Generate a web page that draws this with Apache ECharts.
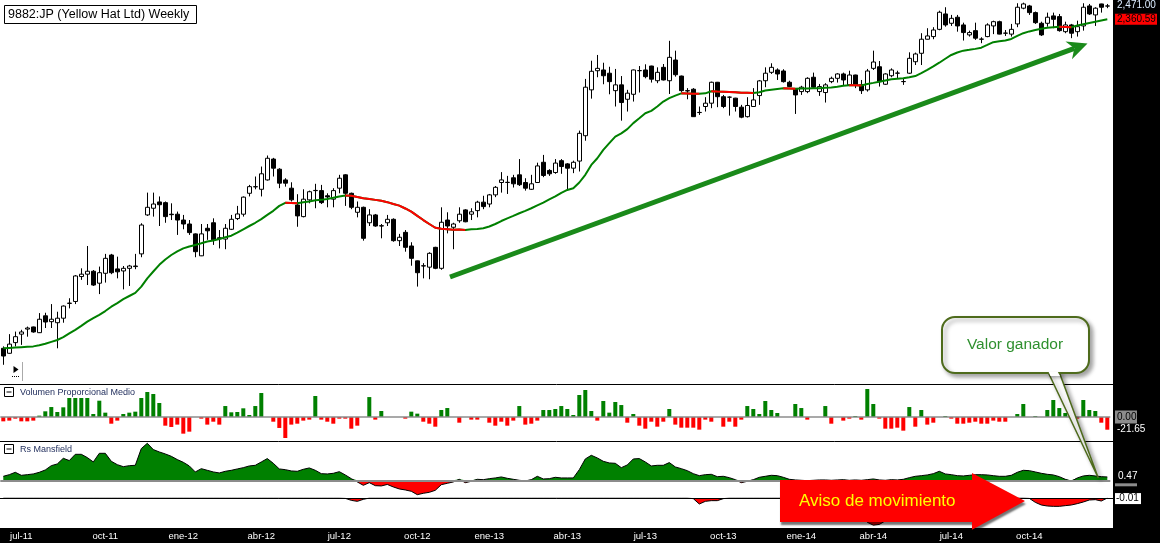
<!DOCTYPE html>
<html><head><meta charset="utf-8">
<script src="https://cdn.jsdelivr.net/npm/echarts/dist/echarts.min.js"></script>
<style>html,body{margin:0;padding:0;background:#fff;}#c{width:1160px;height:543px;}</style>
</head><body><div id="c"></div>
<script>
// weekly candles: [open, close, low, high]
const ohlc = [
[762,742,720,767],[749,773,748,800],[777,793,767,807],[800,806,771,812],[814,817,793,821],
[820,806,804,821],[804,842,803,860],[852,834,817,861],[835,842,817,887],[832,845,762,864],
[845,881,832,883],[889,890,874,905],[895,977,887,980],[975,983,964,1003],[983,993,947,1083],
[993,947,944,997],[953,988,918,1009],[986,1038,955,1054],[1050,988,983,1054],[1001,991,969,1044],
[994,1003,933,1011],[1003,1011,944,1015],[1009,1011,1000,1054],[1054,1164,1042,1171],[1205,1237,1201,1301],
[1233,1251,1198,1301],[1260,1248,1160,1284],[1257,1198,1173,1262],[1208,1206,1184,1254],[1208,1184,1125,1219],
[1184,1168,1147,1205],[1168,1134,1125,1184],[1129,1062,1042,1131],[1047,1129,1046,1168],[1151,1141,1106,1168],
[1173,1106,1087,1191],[1114,1110,1074,1144],[1109,1151,1071,1168],[1147,1187,1144,1205],[1190,1209,1184,1243],
[1208,1281,1198,1284],[1298,1328,1284,1336],[1327,1328,1316,1375],[1316,1388,1284,1423],[1359,1464,1356,1478],
[1460,1415,1375,1466],[1410,1344,1321,1415],[1359,1344,1328,1367],[1321,1269,1262,1348],[1247,1201,1157,1294],
[1198,1272,1195,1316],[1269,1305,1254,1310],[1310,1311,1233,1341],[1310,1257,1251,1336],[1287,1282,1237,1298],
[1272,1310,1237,1321],[1321,1367,1298,1383],[1383,1298,1243,1386],[1298,1237,1229,1301],[1216,1237,1195,1262],
[1237,1112,1103,1240],[1173,1205,1160,1229],[1205,1160,1157,1209],[1161,1160,1112,1168],[1173,1187,1160,1205],
[1187,1103,1099,1191],[1103,1116,1083,1129],[1135,1078,1062,1144],[1083,1038,1012,1097],[1029,988,942,1030],
[1011,1012,969,1021],[1007,1056,966,1060],[1078,1003,1000,1080],[1003,1175,998,1237],[1184,1160,1131,1216],
[1155,1168,1071,1173],[1181,1208,1173,1237],[1226,1177,1175,1229],[1208,1218,1184,1233],[1223,1259,1195,1265],
[1259,1240,1229,1287],[1251,1291,1237,1295],[1291,1325,1281,1331],[1347,1359,1301,1396],[1347,1348,1295,1378],
[1369,1341,1324,1383],[1383,1337,1331,1460],[1347,1321,1310,1367],[1316,1341,1313,1383],[1347,1426,1345,1442],
[1444,1380,1372,1481],[1404,1388,1378,1410],[1394,1440,1388,1460],[1452,1423,1388,1460],[1436,1415,1316,1440],
[1415,1444,1391,1452],[1450,1595,1399,1610],[1582,1869,1555,1923],[1852,1974,1797,2047],[1978,1994,1934,2088],
[1983,1944,1888,2033],[1961,1905,1824,2005],[1847,1884,1749,1990],[1884,1773,1666,1942],[1793,1831,1719,1852],
[1824,1983,1779,1986],[1978,1979,1835,2010],[1983,1938,1927,2022],[2010,1921,1899,2012],[1911,1967,1895,2001],
[2001,1916,1913,2024],[1911,2071,1826,2192],[2052,1951,1938,2119],[1942,1847,1839,1945],[1847,1845,1793,1863],
[1856,1689,1687,1863],[1713,1714,1699,1749],[1749,1769,1719,1806],[1769,1901,1739,1905],[1901,1809,1745,1903],
[1809,1749,1739,1820],[1806,1806,1695,1811],[1800,1749,1719,1802],[1745,1686,1680,1759],[1689,1755,1684,1806],
[1749,1789,1747,1863],[1816,1910,1759,1916],[1911,1961,1869,2001],[1967,2001,1956,2029],[1983,1956,1916,1994],
[1976,1905,1899,1988],[1901,1873,1869,1911],[1856,1820,1705,1863],[1841,1869,1820,1878],[1841,1927,1831,1934],
[1934,1869,1863,1965],[1841,1873,1814,1890],[1835,1884,1773,1895],[1905,1927,1895,1938],[1927,1956,1899,1961],
[1956,1916,1878,1965],[1884,1949,1876,1978],[1949,1884,1863,1951],[1884,1847,1826,1916],[1852,1976,1841,1990],
[1994,2038,1983,2119],[2005,1905,1873,2045],[1888,1956,1884,1961],[1944,1983,1934,1994],[1961,1962,1927,1978],
[1905,1906,1884,1927],[1961,2064,1956,2107],[2040,2095,2017,2105],[2100,2204,2017,2250],[2204,2229,2202,2289],
[2224,2275,2204,2297],[2280,2418,2273,2431],[2404,2315,2301,2460],[2328,2368,2307,2396],[2377,2307,2262,2396],
[2315,2255,2194,2333],[2237,2255,2224,2270],[2270,2212,2199,2333],[2204,2205,2174,2219],[2224,2315,2219,2328],
[2307,2341,2243,2349],[2341,2243,2241,2349],[2250,2251,2229,2275],[2243,2280,2224,2323],[2323,2460,2297,2494],
[2452,2488,2443,2499],[2471,2415,2396,2480],[2415,2333,2323,2424],[2328,2237,2229,2341],[2328,2377,2301,2415],
[2388,2360,2289,2415],[2382,2270,2262,2404],[2262,2315,2250,2341],[2315,2250,2212,2323],[2262,2301,2224,2349],
[2307,2460,2270,2494],[2471,2404,2396,2488],[2396,2452,2307,2460],[2488,2460,2415,2490],[2470,2471,2452,2488]
];
// moving average
const ma = [
762,763,764,765,766,767,770,774,779,784,
792,802,812,823,835,845,855,866,879,890,
902,912,922,942,969,992,1015,1034,1050,1063,
1074,1081,1087,1093,1100,1104,1109,1116,1122,1134,
1147,1160,1173,1188,1205,1222,1243,1256,1255,1254,
1259,1262,1267,1269,1273,1278,1284,1288,1287,1282,
1276,1273,1269,1265,1259,1251,1244,1232,1219,1201,
1184,1168,1153,1149,1147,1145,1146,1144,1147,1148,
1151,1158,1168,1180,1191,1201,1212,1222,1233,1245,
1257,1271,1284,1300,1313,1321,1347,1383,1431,1464,
1507,1542,1577,1595,1618,1652,1680,1709,1723,1749,
1779,1800,1816,1830,1829,1828,1827,1830,1843,1841,
1840,1839,1837,1834,1833,1832,1837,1848,1853,1858,
1862,1861,1859,1860,1861,1862,1863,1865,1867,1872,
1878,1882,1881,1880,1890,1897,1905,1913,1921,1924,
1927,1934,1942,1962,1983,2007,2033,2061,2088,2106,
2119,2125,2132,2141,2161,2182,2188,2194,2206,2229,
2250,2264,2275,2285,2293,2297,2301,2299,2297,2311,
2321,2331,2341,2351,2360.59
];
// Volumen Proporcional Medio
const volume = [
-7.4,-6.2,-2.8,-7.4,-7.4,-6.2,2.3,9.7,17,8.5,
16.5,32.4,32.4,32.4,32.4,5.1,27.8,7.4,-11.4,-6.2,
5.1,7.4,9.1,32.4,42.6,39.2,23.9,-14.8,-17,-13,
-28.4,-25,0,-2.8,-13,-8,-13,18.7,8,8.5,
14.8,3.4,18.7,40.9,0,-8,-18.7,-35.8,-13,-11.4,
-6.2,-4.5,35.8,-4.5,-8,-11.4,-2.8,-2.8,-19.9,-14.8,
0,34,-4.5,10.2,0,0,0,-2.8,9.1,5.7,
-8,-11.4,-16.5,11.9,15.3,0,-9.7,0,-4.5,-4.5,
0,-9.7,-14.8,-8,-14.8,-6.2,18.7,-13,-11.4,-6.2,
11.9,11.9,13.6,18.7,13.6,3.4,37.5,46,10.2,-6.2,
27.3,7.4,25.6,20.4,-9.7,5.1,-14.8,-19.9,-8,-16.5,
-8,13.6,-13,-18.2,-18.2,-18.2,-21.6,-4.5,-8,0,
-16.5,-8,-16.5,-4.5,18.7,13.6,5.1,27.3,11.9,6.8,
0,0,22.2,15.3,-4.5,0,0,18.7,-11.4,0,
-6.2,-2.8,1.7,-4.5,47.7,22.2,-2.8,-19.9,-19.9,-18.2,
-23.3,17,-16.5,11.9,-13,-9.7,0,1.7,-2.8,-11.4,
-11.4,-9.7,-8,-11.4,-11.4,-6.2,-8,-8,0,5.1,
22.2,0,1.7,0,11.9,29,15.3,6.8,0,-2.8,
29,11.9,10.2,-9.7,-21.65
];
// Rs Mansfield
const rs = [
0.56,0.79,1.12,0.70,0.79,0.89,1.12,1.45,2.05,2.29,
3.08,2.76,3.64,3.64,3.18,2.57,3.78,3.78,2.66,2.19,
1.91,2.05,2.10,4.44,5.18,4.30,3.97,3.69,3.36,2.90,
2.52,2.01,1.17,1.63,1.40,1.17,1.03,1.26,1.40,1.59,
1.77,2.01,2.10,2.57,3.04,2.38,1.59,1.49,1.31,1.26,
1.54,1.73,1.40,0.93,0.89,0.98,1.21,0.75,0.23,-0.23,
-0.70,-0.33,-0.75,-0.79,-0.58,-0.93,-1.21,-1.35,-1.54,-2.01,
-1.82,-1.68,-1.40,-0.61,-0.42,-0.23,0.14,-0.33,-0.14,0.14,
0.09,0.23,0.33,0.47,0.28,0.14,0.0,-0.09,0.09,0.56,
0.19,0.23,0.42,0.33,0.33,0.33,1.49,2.99,3.50,3.13,
2.66,2.43,2.38,1.77,2.15,2.99,3.04,2.57,2.01,2.10,
2.10,2.48,1.87,1.63,1.35,0.93,0.65,0.79,0.84,0.51,
0.56,0.37,0.09,-0.33,-0.14,0.09,0.42,0.56,0.70,0.65,
0.42,0.14,0.05,0,-0.05,0,0.05,0.05,0,0.05,
0.09,0,0.05,0,0.09,0.19,0.05,0,0.09,0.05,
0.14,0.37,0.56,0.65,0.75,0.93,1.26,0.89,0.79,0.65,
0.61,0.70,0.79,0.79,0.75,0.65,0.56,0.56,0.70,1.12,
1.40,1.35,1.17,0.98,0.84,0.75,0.51,0.14,-0.14,0.33,
0.61,0.70,0.61,0.51,0.47
];
// lower signal line (only dips below zero)
const aviso = [
0,0,0,0,0,0,0,0,0,0, 0,0,0,0,0,0,0,0,0,0,
0,0,0,0,0,0,0,0,0,0, 0,0,0,0,0,0,0,0,0,0,
0,0,0,0,0,0,0,0,0,0, 0,0,0,0,0,0,0,-0.05,-0.33,-0.47,
-0.19,0,0,0,0,0,0,0,0,0, 0,0,0,0,0,0,0,0,0,0,
0,0,0,0,0,0,0,0,0,0, 0,0,0,0,0,0,0,0,0,0,
0,0,0,0,0,0,0,0,0,0, 0,0,0,0,0,-0.09,-0.84,-0.47,-0.37,-0.37,
-0.09,0,0,0,0,0,0,0,0,0, 0,0,0,0,0,0,0,0,0,0,
0,0,-1.2,-2.4,-3.4,-3.8,-3.7,-3.2,-3.1,-3.0,
-2.6,-1.4,-0.4,0,0,0,0,0,0,0, 0,0,0,0,0,0,0,0,0,0,
0,-0.05,-0.61,-0.98,-1.12,-1.17,-1.17,-1.07,-0.98,-0.79,
-0.56,-0.28,-0.23,-0.42,-0.01
];
const tickIndex = [3,17,30,43,56,69,81,94,107,120,133,145,158,171];
const tickLabels = ['jul-11','oct-11','ene-12','abr-12','jul-12','oct-12','ene-13','abr-13','jul-13','oct-13','ene-14','abr-14','jul-14','oct-14'];
const categories = ohlc.map((d, i) => String(i));

const FONT = '"Liberation Sans", Arial, sans-serif';
const maRed = ma.map((v, i) => ((i > 0 && v < ma[i-1]) || (i < ma.length - 1 && ma[i+1] < v)) ? v : null);
const rsPos = rs.map(v => v > 0 ? v : 0);
const rsNeg = rs.map(v => v < 0 ? v : 0);

const chart = echarts.init(document.getElementById('c'), null, {renderer: 'canvas'});
const gl = 0.3, gw = 1110;
const xAx = (g, show) => ({
  type: 'category', gridIndex: g, data: categories, boundaryGap: true,
  show: true, axisLine: {show: false}, axisTick: {show: false}, splitLine: {show: false},
  axisLabel: show ? {
    show: true, color: '#ffffff', fontSize: 9.5, fontFamily: FONT, margin: 3,
    interval: (idx) => tickIndex.indexOf(idx) >= 0,
    formatter: (v, idx) => { const k = tickIndex.indexOf(Number(v)); return k >= 0 ? tickLabels[k] : ''; }
  } : {show: false}
});
const zeroLine = (w) => ({silent: true, symbol: 'none', animation: false, label: {show: false},
  lineStyle: {color: '#8c8c8c', width: w, type: 'solid'}, data: [{yAxis: 0}]});

chart.setOption({
  animation: false,
  backgroundColor: '#ffffff',
  grid: [
    {left: gl, width: gw, top: 0, height: 384},
    {left: gl, width: gw, top: 384, height: 57},
    {left: gl, width: gw, top: 441, height: 57},
    {left: gl, width: gw, top: 498, height: 30}
  ],
  xAxis: [xAx(0, false), xAx(1, false), xAx(2, false), xAx(3, true)],
  yAxis: [
    {type: 'log', gridIndex: 0, min: 674, max: 2522, show: false},
    {type: 'value', gridIndex: 1, min: -40.92, max: 56.27, show: false},
    {type: 'value', gridIndex: 2, min: -2.478, max: 5.502, show: false},
    {type: 'value', gridIndex: 3, min: -4.2, max: 0, show: false}
  ],
  series: [
    {type: 'candlestick', xAxisIndex: 0, yAxisIndex: 0, data: ohlc, barWidth: 4, z: 3,
     itemStyle: {color: '#ffffff', color0: '#000000', borderColor: '#000000', borderColor0: '#000000', borderWidth: 1}},
    {type: 'line', xAxisIndex: 0, yAxisIndex: 0, data: ma, symbol: 'none', z: 4,
     lineStyle: {color: '#008000', width: 2}},
    {type: 'line', xAxisIndex: 0, yAxisIndex: 0, data: maRed, symbol: 'none', z: 5, connectNulls: false,
     lineStyle: {color: '#ff0000', width: 2}},
    {type: 'bar', xAxisIndex: 1, yAxisIndex: 1, barWidth: 4, z: 3,
     data: volume.map(v => ({value: v, itemStyle: {color: v >= 0 ? '#008000' : '#ff0000'}})),
     markLine: zeroLine(1.5)},
    {type: 'line', xAxisIndex: 2, yAxisIndex: 2, data: rsPos, symbol: 'none', z: 2,
     lineStyle: {width: 0}, areaStyle: {color: '#008000', opacity: 1}},
    {type: 'line', xAxisIndex: 2, yAxisIndex: 2, data: rsNeg, symbol: 'none', z: 2,
     lineStyle: {width: 0}, areaStyle: {color: '#ff0000', opacity: 1}},
    {type: 'line', xAxisIndex: 2, yAxisIndex: 2, data: rs, symbol: 'none', z: 3,
     lineStyle: {color: '#000000', width: 1}, markLine: zeroLine(2)},
    {type: 'line', xAxisIndex: 3, yAxisIndex: 3, data: aviso, symbol: 'none', z: 3,
     lineStyle: {color: '#000000', width: 1}, areaStyle: {color: '#ff0000', opacity: 1, origin: 'end'}}
  ]
});

const last = ohlc.length - 1;
const fmt = (v) => v.toLocaleString('en-US', {minimumFractionDigits: 2, maximumFractionDigits: 2});
const yClose = chart.convertToPixel({yAxisIndex: 0}, ohlc[last][1]);
const yMa = chart.convertToPixel({yAxisIndex: 0}, ma[last]);
const yVol0 = chart.convertToPixel({yAxisIndex: 1}, 0);
const yVol = chart.convertToPixel({yAxisIndex: 1}, volume[last]);
const yRs = chart.convertToPixel({yAxisIndex: 2}, rs[last]);
const yRs0 = chart.convertToPixel({yAxisIndex: 2}, 0);
const yAv = chart.convertToPixel({yAxisIndex: 3}, aviso[last]);

const txt = (t, x, y, size, fill, extra) => Object.assign({type: 'text', z: 30,
  style: {text: t, x: x, y: y, fill: fill, font: size + 'px ' + FONT, textAlign: 'left', textVerticalAlign: 'middle'}}, extra || {});
const OLIVE = '#4e6b1c';
const shadow = {shadowBlur: 4, shadowOffsetX: 3, shadowOffsetY: 3, shadowColor: 'rgba(0,0,0,0.35)'};

// arrow geometry (annotation)
const ax1 = 450, ay1 = 277, tipX = 1087.5, tipY = 43.5;
const dx = tipX - ax1, dy = tipY - ay1, L = Math.sqrt(dx*dx + dy*dy), ux = dx / L, uy = dy / L;
const bx = tipX - 20 * ux, by = tipY - 20 * uy, nx = tipX - 14 * ux, ny = tipY - 14 * uy;

chart.setOption({
  graphic: [
    {type: 'rect', z: -1, shape: {x: 1113, y: 0, width: 47, height: 543}, style: {fill: '#000'}},
    {type: 'rect', z: -1, shape: {x: 0, y: 528, width: 1160, height: 15}, style: {fill: '#000'}},
    {type: 'line', z: 6, shape: {x1: 0, y1: 384.5, x2: 1113, y2: 384.5}, style: {stroke: '#000', lineWidth: 1}},
    {type: 'line', z: 6, shape: {x1: 0, y1: 441.5, x2: 1113, y2: 441.5}, style: {stroke: '#000', lineWidth: 1}},
    {type: 'line', z: 6, shape: {x1: 0, y1: 498.5, x2: 1113, y2: 498.5}, style: {stroke: '#000', lineWidth: 1}},
    // title
    {type: 'rect', z: 30, shape: {x: 4.5, y: 5.5, width: 192, height: 18}, style: {fill: '#fff', stroke: '#000', lineWidth: 1}},
    txt('9882:JP (Yellow Hat Ltd) Weekly', 8, 15, 12.5, '#000'),
    // pane labels
    {type: 'rect', z: 30, shape: {x: 4.5, y: 387.5, width: 9, height: 9}, style: {fill: '#fff', stroke: '#000', lineWidth: 1}},
    {type: 'line', z: 31, shape: {x1: 6.5, y1: 392, x2: 11.5, y2: 392}, style: {stroke: '#000', lineWidth: 1}},
    txt('Volumen Proporcional Medio', 20, 392.5, 9, '#23305e'),
    {type: 'rect', z: 30, shape: {x: 4.5, y: 444.5, width: 9, height: 9}, style: {fill: '#fff', stroke: '#000', lineWidth: 1}},
    {type: 'line', z: 31, shape: {x1: 6.5, y1: 449, x2: 11.5, y2: 449}, style: {stroke: '#000', lineWidth: 1}},
    txt('Rs Mansfield', 20, 449.5, 9, '#23305e'),
    // scroll marker
    {type: 'polygon', z: 30, shape: {points: [[13.5, 366], [18.5, 369.5], [13.5, 373]]}, style: {fill: '#000'}},
    {type: 'line', z: 30, shape: {x1: 12, y1: 376.5, x2: 19, y2: 376.5}, style: {stroke: '#000', lineWidth: 1, lineDash: [1, 1]}},
    {type: 'line', z: 30, shape: {x1: 22.5, y1: 362, x2: 22.5, y2: 381}, style: {stroke: '#aaa', lineWidth: 1}},
    // right side labels
    txt(fmt(ohlc[last][1]), 1117, yClose - 1, 10, '#dcecff'),
    {type: 'rect', z: 30, shape: {x: 1115, y: yMa - 5.5, width: 42, height: 11}, style: {fill: '#ff0000'}},
    txt(fmt(ma[last]), 1117, yMa, 10, '#000'),
    {type: 'rect', z: 30, shape: {x: 1115, y: yVol0 - 6.5, width: 22, height: 13}, style: {fill: '#8c8c8c'}},
    txt(fmt(0), 1117, yVol0, 10, '#000'),
    txt(fmt(volume[last]), 1117, yVol, 10, '#fff'),
    {type: 'rect', z: 29, shape: {x: 1115, y: yRs0 + 3, width: 22, height: 3}, style: {fill: '#8c8c8c'}},
    txt(fmt(rs[last]), 1118, yRs - 1, 10, '#fff'),
    {type: 'rect', z: 30, shape: {x: 1115, y: yAv - 5, width: 26, height: 11}, style: {fill: '#fff'}},
    txt(fmt(aviso[last]), 1116, yAv + 0.5, 10, '#000'),
    // green trend arrow
    {type: 'line', z: 20, shape: {x1: ax1, y1: ay1, x2: nx, y2: ny}, style: {stroke: '#1a8a1a', lineWidth: 5}},
    {type: 'polygon', z: 20, shape: {points: [[tipX, tipY], [bx + 9.5 * uy, by - 9.5 * ux], [nx, ny], [bx - 9.5 * uy, by + 9.5 * ux]]},
     style: {fill: '#1a8a1a'}},
    // callout
    {type: 'polygon', z: 21, shape: {points: [[1047.6, 371], [1058.8, 371], [1098.3, 478]]},
     style: Object.assign({fill: '#fff', stroke: OLIVE, lineWidth: 1.5}, shadow)},
    {type: 'rect', z: 22, shape: {x: 942, y: 317, width: 147, height: 56, r: 13},
     style: Object.assign({fill: '#fff', stroke: OLIVE, lineWidth: 2}, shadow)},
    {type: 'polygon', z: 23, shape: {points: [[1048.6, 372], [1057.8, 372], [1060, 376], [1050.5, 376]]}, style: {fill: '#fff'}},
    {type: 'text', z: 24, style: {text: 'Valor ganador', x: 1015, y: 345, fill: '#2f902f', font: '15.5px ' + FONT,
      textAlign: 'center', textVerticalAlign: 'middle'}},
    // red warning arrow
    {type: 'polygon', z: 25, shape: {points: [[780, 480], [972, 480], [972, 473], [1025, 501], [972, 529.7], [972, 522], [780, 522]]},
     style: {fill: '#ff0000', shadowBlur: 2, shadowOffsetX: 1, shadowOffsetY: 3, shadowColor: 'rgba(0,0,0,0.55)'}},
    {type: 'text', z: 26, style: {text: 'Aviso de movimiento', x: 799, y: 501, fill: '#ffff00', font: '17px ' + FONT,
      textAlign: 'left', textVerticalAlign: 'middle'}}
  ]
});
</script>
</body></html>
